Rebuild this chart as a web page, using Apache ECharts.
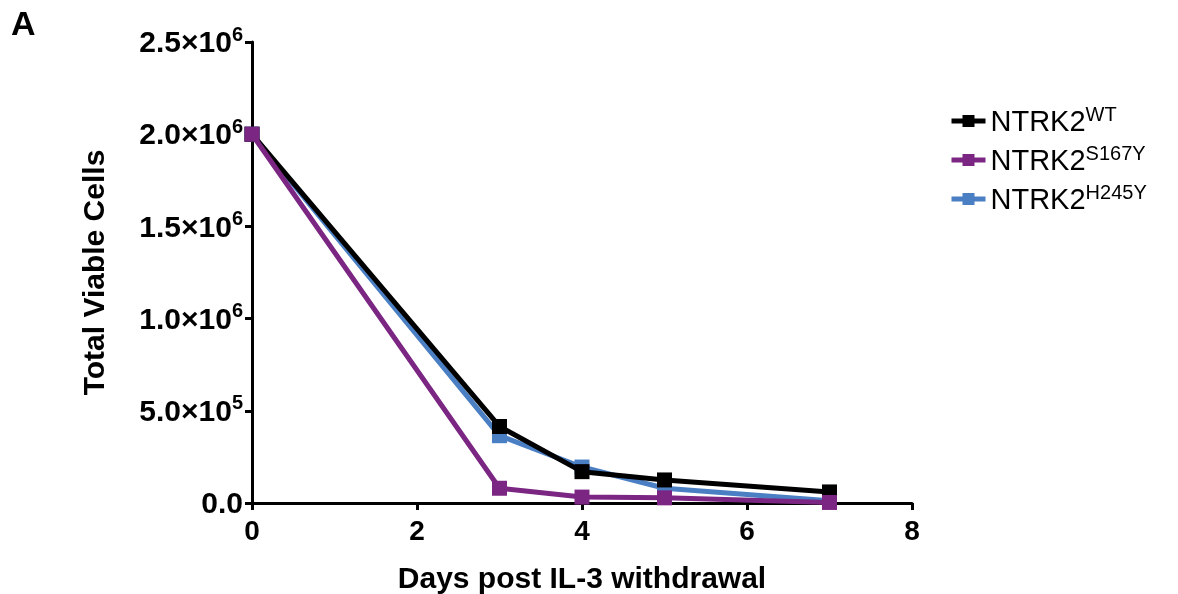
<!DOCTYPE html>
<html>
<head>
<meta charset="utf-8">
<script src="https://cdn.jsdelivr.net/npm/echarts@6/dist/echarts.min.js"></script>
<style>
html,body{margin:0;padding:0;background:#fff;}
#chart{width:1178px;height:594px;}
</style>
</head>
<body>
<div id="chart"></div>
<script>
const days = [0, 3, 4, 5, 7];
const wt = [2000000, 415000, 170000, 125000, 60000];
const s167y = [2000000, 80000, 32000, 28000, 3000];
const h245y = [2000000, 365000, 195000, 80000, 12000];
const yTicks = {0: '0.0', 500000: '5.0×10|5', 1000000: '1.0×10|6', 1500000: '1.5×10|6', 2000000: '2.0×10|6', 2500000: '2.5×10|6'};
const seriesNames = ['NTRK2|WT', 'NTRK2|S167Y', 'NTRK2|H245Y'];
const colors = ['#000000', '#7B2682', '#4A7FC4'];

const chart = echarts.init(document.getElementById('chart'));
const mk = (arr) => days.map((d, i) => [d, arr[i]]);
const font = 'Liberation Sans, Arial, sans-serif';

function yFmt(v) {
  const t = yTicks[v];
  if (t === undefined) return '';
  const p = t.split('|');
  if (p.length === 1) return '{b|' + p[0] + '}';
  return '{b|' + p[0] + '}{s|' + p[1] + '}';
}

const dataSets = [wt, s167y, h245y];
const zs = [3, 4, 2];
chart.setOption({
  animation: false,
  graphic: [{type: 'text', left: 11, top: 9, style: {text: 'A', font: 'bold 34px ' + font, fill: '#000'}}],
  grid: {left: 252, right: 266, top: 42, bottom: 91, containLabel: false, outerBoundsMode: 'none'},
  legend: {
    orient: 'vertical', left: 944, top: 100, itemGap: 7,
    itemWidth: 34, itemHeight: 15,
    data: seriesNames,
    lineStyle: {width: 5},
    formatter: function (n) { const p = n.split('|'); return '{m|' + p[0] + '}{s|' + p[1] + '}'; },
    textStyle: {
      rich: {
        m: {fontFamily: font, fontSize: 29, color: '#000', lineHeight: 32, verticalAlign: 'bottom'},
        s: {fontFamily: font, fontSize: 20, color: '#000', lineHeight: 32, verticalAlign: 'top', padding: [0, 0, 12, 0]}
      }
    }
  },
  xAxis: {
    type: 'value', min: 0, max: 8, interval: 2,
    name: 'Days post IL-3 withdrawal', nameLocation: 'middle', nameGap: 62,
    nameTextStyle: {fontFamily: font, fontSize: 30, fontWeight: 'bold', color: '#000'},
    axisLine: {show: true, onZero: false, lineStyle: {color: '#000', width: 3}},
    axisTick: {show: true, length: 7, lineStyle: {color: '#000', width: 3}},
    axisLabel: {fontFamily: font, fontSize: 28, fontWeight: 'bold', color: '#000', margin: 15},
    splitLine: {show: false}
  },
  yAxis: {
    type: 'value', min: 0, max: 2500000, interval: 500000,
    name: 'Total Viable Cells', nameLocation: 'middle', nameGap: 141,
    nameTextStyle: {fontFamily: font, fontSize: 30, fontWeight: 'bold', color: '#000'},
    axisLine: {show: true, lineStyle: {color: '#000', width: 3}},
    axisTick: {show: true, length: 7, lineStyle: {color: '#000', width: 3}},
    axisLabel: {
      formatter: yFmt, margin: 9,
      rich: {
        b: {fontFamily: font, fontSize: 30, fontWeight: 'bold', color: '#000', lineHeight: 34, verticalAlign: 'bottom'},
        s: {fontFamily: font, fontSize: 20, fontWeight: 'bold', color: '#000', lineHeight: 34, verticalAlign: 'top', padding: [0, 0, 14, 0]}
      }
    },
    splitLine: {show: false}
  },
  series: seriesNames.map((n, i) => ({
    name: n, type: 'line', data: mk(dataSets[i]), z: zs[i],
    symbol: 'rect', symbolSize: 15,
    lineStyle: {color: colors[i], width: 5},
    itemStyle: {color: colors[i]}
  }))
});
</script>
</body>
</html>
